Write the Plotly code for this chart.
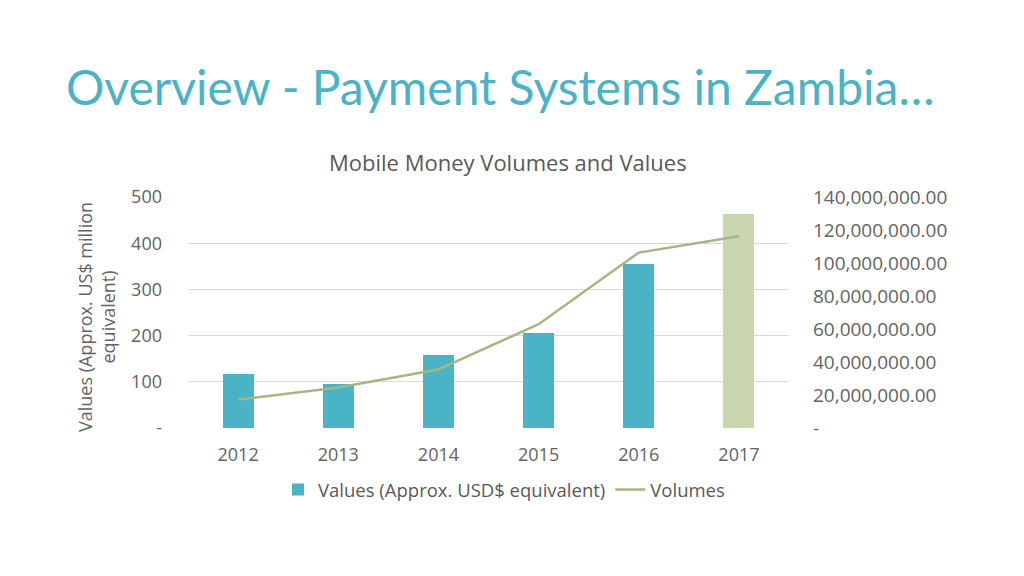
import plotly.graph_objects as go

years = ["2012", "2013", "2014", "2015", "2016", "2017"]
values_usd_million = [116, 95, 157, 206, 356, 463]
volumes = [17200000, 24500000, 35500000, 62900000, 106300000, 116200000]
bar_colors = ["#4BB3C6", "#4BB3C6", "#4BB3C6", "#4BB3C6", "#4BB3C6", "#C9D6AE"]

left_ticks = [0, 100, 200, 300, 400, 500]
left_ticktext = ["-", "100", "200", "300", "400", "500"]
right_ticks = [0, 20e6, 40e6, 60e6, 80e6, 100e6, 120e6, 140e6]
right_ticktext = ["-", "20,000,000.00", "40,000,000.00", "60,000,000.00",
                  "80,000,000.00", "100,000,000.00", "120,000,000.00", "140,000,000.00"]

W, H = 1024, 576
FONT = "Open Sans"
GREY = "#595959"
TICK_GREY = "#636363"

fig = go.Figure()
fig.add_trace(go.Bar(
    x=years, y=values_usd_million, name="Values (Approx. USD$ equivalent)",
    marker=dict(color=bar_colors, line=dict(width=0)), width=0.31, yaxis="y",
))
fig.add_trace(go.Scatter(
    x=years, y=volumes, name="Volumes", mode="lines",
    line=dict(color="#A3B784", width=2.5), yaxis="y2",
))

fig.update_layout(
    width=W, height=H,
    margin=dict(l=0, r=0, t=0, b=0, autoexpand=False),
    paper_bgcolor="white", plot_bgcolor="white",
    font=dict(family=FONT, color=GREY, size=16),
    showlegend=True,
    legend=dict(orientation="h", x=278 / W, xanchor="left", y=1 - 490 / H, yanchor="middle",
                font=dict(family=FONT, size=18.5, color=GREY), itemwidth=30,
                bgcolor="rgba(0,0,0,0)"),
    xaxis=dict(domain=[188 / W, 789 / W], showgrid=False, showline=False, zeroline=False,
               automargin=False, ticks="", ticklabelstandoff=14,
               tickfont=dict(family=FONT, size=18, color=TICK_GREY)),
    yaxis=dict(domain=[1 - 428 / H, 1 - 197 / H], range=[0, 500], tickvals=left_ticks,
               ticktext=left_ticktext, showgrid=True, gridcolor="#D9D9D9", gridwidth=1,
               zeroline=False, showline=False, ticks="", ticklabelstandoff=25,
               automargin=False, tickfont=dict(family=FONT, size=18, color=TICK_GREY)),
    yaxis2=dict(overlaying="y", side="right", range=[0, 140e6], tickvals=right_ticks,
                ticktext=right_ticktext, showgrid=False, zeroline=False, showline=False,
                ticks="", ticklabelstandoff=23, automargin=False,
                tickfont=dict(family=FONT, size=19, color=TICK_GREY)),
    bargap=0,
)

fig.add_annotation(text="Overview - Payment Systems in Zambia…", xref="paper", yref="paper",
                   x=500 / W, y=1 - 87 / H, xanchor="center", yanchor="middle", showarrow=False,
                   font=dict(family="Lato", size=48, color="#4BB3C6"))
fig.add_annotation(text="Mobile Money Volumes and Values", xref="paper", yref="paper",
                   x=508 / W, y=1 - 162 / H, xanchor="center", yanchor="middle", showarrow=False,
                   font=dict(family=FONT, size=22, color=GREY))
fig.add_annotation(text="Values (Approx. US$ million<br>equivalent)", xref="paper", yref="paper",
                   x=96 / W, y=1 - 317 / H, xanchor="center", yanchor="middle", showarrow=False,
                   textangle=-90, font=dict(family=FONT, size=18, color=TICK_GREY))

fig.write_html("out.html", post_script="document.body.style.margin='0';",
               config={"displayModeBar": False})
